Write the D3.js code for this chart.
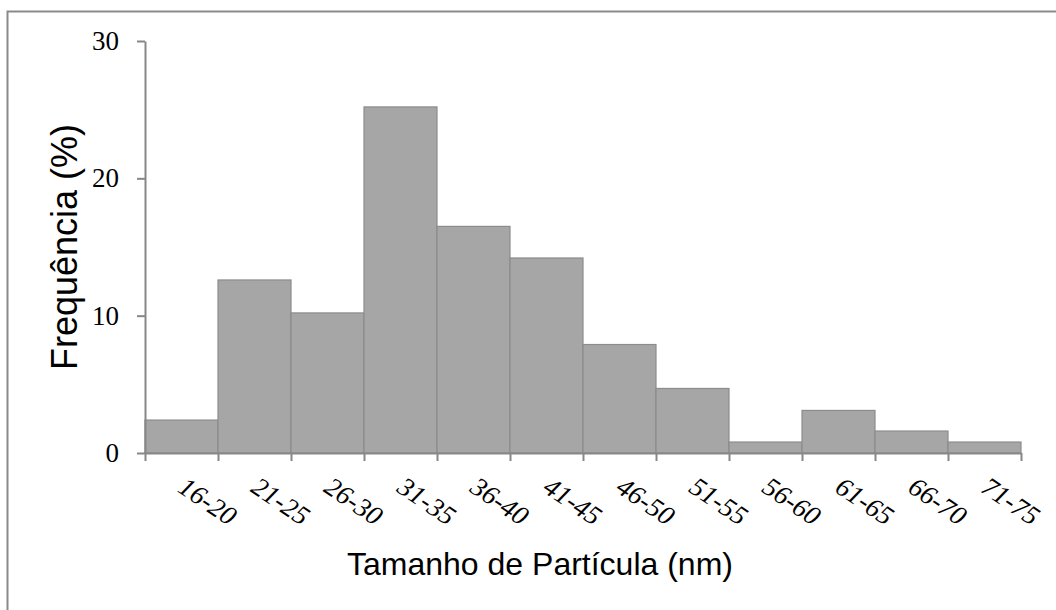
<!DOCTYPE html>
<html>
<head>
<meta charset="utf-8">
<script src="https://cdn.jsdelivr.net/npm/d3@7"></script>
<style>
  html, body { margin: 0; padding: 0; background: #fff; }
  svg { display: block; }
</style>
</head>
<body>
<svg id="chart" width="1056" height="610"></svg>
<script>
// Particle size classes (nm) and their frequency (%)
const categories = ["16-20", "21-25", "26-30", "31-35", "36-40", "41-45",
                    "46-50", "51-55", "56-60", "61-65", "66-70", "71-75"];
const frequency = [2.4, 12.6, 10.2, 25.2, 16.5, 14.2, 7.9, 4.7, 0.8, 3.1, 1.6, 0.8];
const yTicks = [0, 10, 20, 30];

const svg = d3.select("#chart");
const plotLeft = 145, plotRight = 1021, plotTop = 41, plotBottom = 453;
const axisColor = "#878787";

// chart frame
svg.append("rect")
  .attr("x", 7.5).attr("y", 11.5)
  .attr("width", 1100).attr("height", 700)
  .attr("fill", "none").attr("stroke", "#8a8a8a").attr("stroke-width", 2);

const x = d3.scaleBand().domain(categories).range([plotLeft, plotRight]).padding(0);
const y = d3.scaleLinear().domain([0, 30]).range([plotBottom, plotTop]);

// histogram bars
svg.append("g").selectAll("rect")
  .data(frequency)
  .join("rect")
  .attr("x", (d, i) => x(categories[i]))
  .attr("y", d => y(d))
  .attr("width", x.bandwidth())
  .attr("height", d => y(0) - y(d))
  .attr("fill", "#a6a6a6")
  .attr("stroke", "#8c8c8c")
  .attr("stroke-width", 1.2);

// y axis
const yAxis = svg.append("g")
  .attr("transform", `translate(${plotLeft},0)`)
  .call(d3.axisLeft(y).tickValues(yTicks).tickSize(8).tickPadding(18).tickSizeOuter(0));
yAxis.select(".domain").attr("stroke", axisColor).attr("stroke-width", 2);
yAxis.selectAll(".tick line").attr("stroke", axisColor).attr("stroke-width", 2);
yAxis.selectAll(".tick text")
  .attr("fill", "#000")
  .attr("font-family", "'Liberation Serif', serif")
  .attr("font-size", 27);

// x axis: ticks at class boundaries
const edges = d3.range(categories.length + 1);
const xe = d3.scaleLinear().domain([0, categories.length]).range([plotLeft, plotRight]);
const xAxis = svg.append("g")
  .attr("transform", `translate(0,${plotBottom})`)
  .call(d3.axisBottom(xe).tickValues(edges).tickSize(8).tickFormat("").tickSizeOuter(0));
xAxis.select(".domain").attr("stroke", axisColor).attr("stroke-width", 2);
xAxis.selectAll(".tick line").attr("stroke", axisColor).attr("stroke-width", 2);

// rotated class labels
svg.append("g").selectAll("text")
  .data(categories)
  .join("text")
  .attr("transform", d => `translate(${x(d) + x.bandwidth() / 2 - 5},${plotBottom + 38}) rotate(34)`)
  .attr("text-anchor", "start")
  .style("font-family", "'Liberation Serif', serif")
  .style("font-style", "italic")
  .style("font-size", "27px")
  .attr("fill", "#000")
  .text(d => d);

// axis titles
svg.append("text")
  .attr("transform", `translate(77,${(plotTop + plotBottom) / 2}) rotate(-90)`)
  .attr("text-anchor", "middle")
  .attr("font-family", "'Liberation Sans', Arial, sans-serif")
  .attr("font-size", 36)
  .attr("fill", "#000")
  .text("Frequência (%)");

svg.append("text")
  .attr("x", 540).attr("y", 575)
  .attr("text-anchor", "middle")
  .attr("font-family", "'Liberation Sans', Arial, sans-serif")
  .attr("font-size", 32)
  .attr("fill", "#000")
  .text("Tamanho de Partícula (nm)");
</script>
</body>
</html>
